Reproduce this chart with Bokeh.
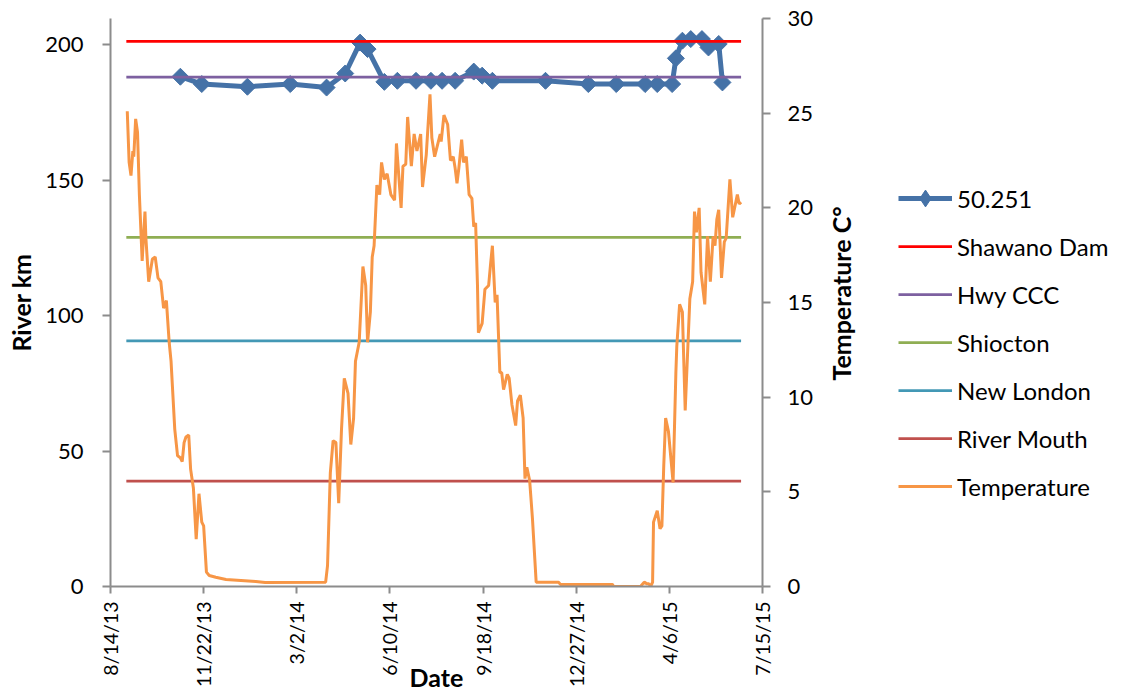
from math import pi
import pandas as pd
from bokeh.plotting import figure
from bokeh.layouts import row
from bokeh.models import Range1d, LinearAxis, FixedTicker, Legend, LegendItem, Label
from bokeh.embed import file_html
from bokeh.resources import INLINE

# ---------------- data ----------------
START = "2013-08-14"
x_tick_dates = ["2013-08-14", "2013-11-22", "2014-03-02", "2014-06-10",
                "2014-09-18", "2014-12-27", "2015-04-06", "2015-07-15"]
x_tick_labels = ["8/14/13", "11/22/13", "3/2/14", "6/10/14",
                 "9/18/14", "12/27/14", "4/6/15", "7/15/15"]
y_ticks = [0, 50, 100, 150, 200]
temp_ticks = [0, 5, 10, 15, 20, 25, 30]

fish_label = "50.251"
fish_dates = ["2013-10-28", "2013-11-20", "2014-01-08", "2014-02-23", "2014-04-03",
              "2014-04-23", "2014-05-09", "2014-05-17", "2014-06-04", "2014-06-18",
              "2014-07-08", "2014-07-24", "2014-08-05", "2014-08-19", "2014-09-08",
              "2014-09-17", "2014-09-28", "2014-11-24", "2015-01-09", "2015-02-08",
              "2015-03-11", "2015-03-24", "2015-04-09", "2015-04-13", "2015-04-20",
              "2015-04-29", "2015-05-11", "2015-05-18", "2015-05-29", "2015-06-02"]
fish_km = [188.2, 185.5, 184.5, 185.5, 184.2,
           189.4, 200.8, 198.4, 186.3, 186.7,
           186.7, 186.7, 186.7, 186.7, 190.1,
           188.6, 186.7, 186.7, 185.5, 185.5,
           185.5, 185.5, 185.5, 195.0, 201.5,
           202.1, 202.1, 199.0, 200.3, 186.1]

site_names = ["Shawano Dam", "Hwy CCC", "Shiocton", "New London", "River Mouth"]
site_km = [201.3, 188.1, 128.9, 90.7, 38.9]
site_span = ["2013-08-31", "2015-06-22"]

# temperature: days since START, degrees C
temp_day = [18, 20, 22, 24, 25, 27, 29, 31, 34, 37, 38, 41, 45, 48, 51, 54, 57, 60, 63, 65,
            69, 72, 75, 77, 79, 81, 84, 86, 89, 92, 95, 98, 100, 103, 106, 113, 124, 156, 166,
            231, 233, 236, 239, 242, 245, 248, 251, 255, 258, 261, 263, 267, 271, 274, 276,
            279, 281, 283, 286, 289, 291, 294, 297, 301, 305, 307, 312, 314, 317, 319, 323,
            326, 329, 333, 335, 339, 343, 345, 348, 351, 354, 355, 358, 362, 365, 368, 370,
            372, 374, 377, 379, 382, 385, 388, 390, 392, 394, 395, 399, 402, 406, 408, 410,
            413, 415, 418, 420, 422, 426, 428, 431, 435, 437, 440, 443, 445, 447, 450, 453,
            457, 481, 483, 539, 540, 569, 573, 576, 578, 580, 582, 583, 587, 590, 592, 594,
            596, 599, 604, 607, 608, 611, 614, 617, 622, 625, 627, 629, 632, 634, 638, 641,
            644, 647, 649, 651, 653, 656, 659, 661, 665, 668, 673, 675, 677]
temp_c = [25.1, 22.4, 21.7, 23.0, 22.7, 24.7, 24.0, 20.7, 17.2, 19.8, 18.4, 16.1, 17.3, 17.4,
          16.3, 16.1, 14.7, 15.1, 12.9, 11.9,
          8.3, 6.9, 6.8, 6.6, 7.6, 7.9, 8.0, 6.2, 5.2, 2.5, 4.9, 3.4, 3.2, 0.76, 0.58, 0.49,
          0.37, 0.26, 0.21,
          0.23, 1.1, 6.0, 7.7, 7.6, 4.4, 8.3, 11.0, 10.2, 7.5, 8.9, 11.9, 12.9, 16.9, 15.9, 12.9,
          14.5, 17.4, 18.0, 21.2, 20.7, 22.4, 21.5, 21.8, 20.7, 20.4, 23.4, 20.0, 22.2, 22.3,
          24.8, 22.2,
          23.9, 23.0, 23.9, 21.1, 22.8, 26.0, 23.7, 22.7, 23.3, 23.9, 23.5, 24.9, 24.4, 22.5,
          22.7, 22.1,
          21.3, 22.1, 23.6, 22.4, 22.7, 20.7, 20.5, 19.0, 19.2, 15.9, 13.4, 13.9, 15.7, 15.9,
          17.0, 18.0,
          15.0, 15.4, 11.3, 11.3, 10.4, 11.2, 11.0, 9.6, 8.5, 9.8, 10.1, 8.9, 5.7, 6.3, 5.6, 3.6,
          0.23, 0.23, 0.11, 0.11, 0.0, 0.0, 0.23, 0.14, 0.14, 0.0, 0.23, 3.4, 4.0, 3.05, 3.2, 6.4,
          8.9, 8.2, 5.5, 11.3, 12.7, 14.9, 14.5, 9.3, 15.2, 16.1, 19.8, 18.7, 20.0, 16.6, 14.9,
          18.5,
          16.1, 18.5, 18.0, 19.4, 19.9, 16.3, 18.2, 18.4, 21.5, 19.5, 20.7, 20.2, 20.3]

x_title = "Date"
y_title = "River km"
y2_title = "Temperature C°"

# ---------------- styling ----------------
BLUE = "#4572A7"
site_colors = ["#FF0000", "#7D60A0", "#8FAE53", "#4398B5", "#C0504D"]
ORANGE = "#F79646"
AXIS_COLOR = "#8C8C8C"
FONT = "Lato"
SITE_W = 2.75
TEMP_W = 3
FISH_W = 5
TITLE_SIZE = "25px"

start = pd.Timestamp(START)
tick_ts = pd.to_datetime(x_tick_dates)
tick_ms = [float(t.value // 10**6) for t in tick_ts]
temp_dates = start + pd.to_timedelta(temp_day, unit="D")
fish_dt = pd.to_datetime(fish_dates)
span_dt = pd.to_datetime(site_span)

# ---------------- main chart ----------------
p = figure(width=822, height=694, x_axis_type="datetime",
           x_range=Range1d(tick_ts[0], tick_ts[-1]),
           y_range=Range1d(0, 209.7),
           output_backend="svg", toolbar_location=None,
           min_border_left=110, min_border_right=60,
           min_border_top=18, min_border_bottom=108)
p.extra_y_ranges = {"temp": Range1d(0, 30)}
p.outline_line_color = None
p.background_fill_color = "white"
p.border_fill_color = "white"
p.xgrid.visible = False
p.ygrid.visible = False

p.line(fish_dt, fish_km, line_width=FISH_W, color=BLUE)
p.scatter(fish_dt, fish_km, marker="square", angle=pi / 4, size=12, color=BLUE)
for km, col in zip(site_km, site_colors):
    p.line(span_dt, [km, km], line_width=SITE_W, color=col)
p.line(temp_dates, temp_c, y_range_name="temp", line_width=TEMP_W, color=ORANGE)

right_axis = LinearAxis(y_range_name="temp")
p.add_layout(right_axis, "right")

for ax in [p.xaxis[0], p.yaxis[0], right_axis]:
    ax.axis_line_color = AXIS_COLOR
    ax.axis_line_width = 2
    ax.major_tick_line_color = AXIS_COLOR
    ax.major_tick_line_width = 2
    ax.major_tick_in = 0
    ax.major_tick_out = 8
    ax.minor_tick_line_color = None
    ax.major_label_text_font = FONT
    ax.major_label_text_color = "black"
    ax.axis_label_text_font = FONT
    ax.axis_label_text_font_style = "bold"
    ax.axis_label_text_font_size = TITLE_SIZE
    ax.axis_label_text_color = "black"

p.yaxis[0].ticker = FixedTicker(ticks=y_ticks)
p.yaxis[0].major_label_text_font_size = "22px"
p.yaxis[0].major_label_standoff = 19
p.yaxis[0].axis_label = y_title
p.yaxis[0].axis_label_standoff = 6

right_axis.ticker = FixedTicker(ticks=temp_ticks)
right_axis.major_label_text_font_size = "22px"
right_axis.major_label_standoff = 17

p.xaxis[0].ticker = FixedTicker(ticks=tick_ms)
p.xaxis[0].major_label_overrides = {ms: lab for ms, lab in zip(tick_ms, x_tick_labels)}
p.xaxis[0].major_label_orientation = pi / 2
p.xaxis[0].major_label_text_font_size = "19.5px"
p.xaxis[0].major_label_standoff = 8
p.xaxis[0].major_tick_out = 7
p.xaxis[0].axis_label = x_title
p.xaxis[0].axis_label_standoff = -28

# ---------------- right-hand panel: secondary title + legend ----------------
lg = figure(width=299, height=694, output_backend="svg", toolbar_location=None,
            title=None, x_axis_location=None, y_axis_location=None,
            x_range=Range1d(0, 1), y_range=Range1d(0, 1),
            min_border_left=0, min_border_right=0, min_border_top=0, min_border_bottom=0)
lg.outline_line_color = None
lg.background_fill_color = "white"
lg.border_fill_color = "white"
lg.xgrid.visible = False
lg.ygrid.visible = False

lg.add_layout(Label(x=18, y=293, x_units="screen", y_units="screen", text=y2_title,
                    angle=pi / 2, angle_units="rad", text_align="center",
                    text_baseline="middle", text_font=FONT, text_font_style="bold",
                    text_font_size=TITLE_SIZE, text_color="black"))

nan = [float("nan")]
k_line = lg.line(nan, nan, line_width=FISH_W, color=BLUE)
k_pts = lg.scatter(nan, nan, marker="diamond", size=17, color=BLUE)
items = [LegendItem(label=fish_label, renderers=[k_line, k_pts])]
for name, col in zip(site_names, site_colors):
    r = lg.line(nan, nan, line_width=SITE_W, color=col)
    items.append(LegendItem(label=name, renderers=[r]))
t = lg.line(nan, nan, line_width=TEMP_W, color=ORANGE)
items.append(LegendItem(label="Temperature", renderers=[t]))

legend = Legend(items=items, location=(76, 79), orientation="vertical",
                border_line_color=None, background_fill_alpha=0,
                padding=0, margin=0, spacing=6,
                glyph_width=54, glyph_height=42, label_height=42, label_standoff=5,
                label_text_font=FONT, label_text_font_size="24px",
                label_text_color="black", label_text_baseline="middle")
lg.add_layout(legend)

layout = row(p, lg)
open("out.html", "w").write(file_html(layout, INLINE))
